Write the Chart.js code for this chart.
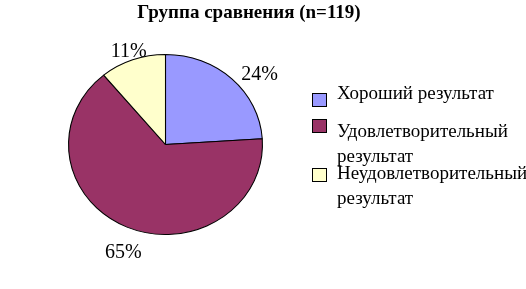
<!DOCTYPE html>
<html>
<head>
<meta charset="utf-8">
<script src="https://cdn.jsdelivr.net/npm/chart.js@4/dist/chart.umd.min.js"></script>
<style>
body{margin:0;background:#fff;}
#wrap{position:relative;width:526px;height:289px;overflow:hidden;}
#title{position:absolute;left:0;top:2px;width:498px;text-align:center;font:bold 19px "Liberation Serif","Times New Roman",serif;line-height:20px;color:#000;}
.item{position:absolute;left:312px;width:214px;font:19px "Liberation Serif","Times New Roman",serif;line-height:25px;color:#000;}
.item .box{position:absolute;left:0;width:13px;height:12px;border:1px solid #000;}
.item .txt{position:absolute;left:25px;width:190px;}
</style>
</head>
<body>
<div id="wrap">
<canvas id="myChart" width="526" height="289"></canvas>
<div id="title"></div>
<div id="legend"></div>
</div>
<script>
var title = "Группа сравнения (n=119)";
var labels = ["Хороший результат", "Удовлетворительный результат", "Неудовлетворительный результат"];
var values = [24, 65, 11];
var colors = ["#9999FF", "#993366", "#FFFFCC"];

// legend layout (line top, box top)
var itemTop = [80, 118, 160];
var boxTop = [13, 1, 8];
// percent label placement: distance factor and nudge
var labelDist = [1.25, 1.25, 1.12];
var labelNudge = [[11, 12], [6, 5], [0, 2]];
var sx = 97.5 / 90.5; // pie is a bit wider than tall

document.getElementById("title").textContent = title;
var leg = document.getElementById("legend");
labels.forEach(function(l, i){
  var d = document.createElement("div");
  d.className = "item";
  d.style.top = itemTop[i] + "px";
  var b = document.createElement("div");
  b.className = "box";
  b.style.top = boxTop[i] + "px";
  b.style.background = colors[i];
  var t = document.createElement("div");
  t.className = "txt";
  t.textContent = l;
  d.appendChild(b); d.appendChild(t);
  leg.appendChild(d);
});

var stretch = {
  id: "stretch",
  beforeDatasetsDraw: function(chart){
    var a = chart.chartArea, ctx = chart.ctx;
    var cx = (a.left + a.right) / 2;
    ctx.save();
    ctx.translate(cx, 0);
    ctx.scale(sx, 1);
    ctx.translate(-cx, 0);
  },
  afterDatasetsDraw: function(chart){
    var ctx = chart.ctx;
    ctx.restore();
    var meta = chart.getDatasetMeta(0);
    var total = values.reduce(function(s, v){ return s + v; }, 0);
    ctx.save();
    ctx.font = '20px "Liberation Serif","Times New Roman",serif';
    ctx.fillStyle = "#000";
    ctx.textAlign = "center";
    ctx.textBaseline = "middle";
    meta.data.forEach(function(arc, i){
      var p = arc.getProps(["x", "y", "startAngle", "endAngle", "outerRadius"], true);
      var m = (p.startAngle + p.endAngle) / 2;
      var r = p.outerRadius * labelDist[i];
      var x = p.x + Math.cos(m) * r * sx + labelNudge[i][0];
      var y = p.y + Math.sin(m) * r + labelNudge[i][1];
      ctx.fillText(Math.round(values[i] / total * 100) + "%", x, y);
    });
    ctx.restore();
  }
};

var ctx = document.querySelector("#myChart").getContext("2d");
new Chart(ctx, {
  type: "pie",
  data: {
    labels: labels,
    datasets: [{
      data: values,
      backgroundColor: colors,
      borderColor: "#000",
      borderWidth: 1
    }]
  },
  options: {
    responsive: false,
    animation: false,
    radius: 90,
    layout: {padding: {left: 60, right: 255, top: 54, bottom: 54}},
    plugins: {
      legend: {display: false},
      title: {display: false},
      tooltip: {enabled: false}
    }
  },
  plugins: [stretch]
});
</script>
</body>
</html>
